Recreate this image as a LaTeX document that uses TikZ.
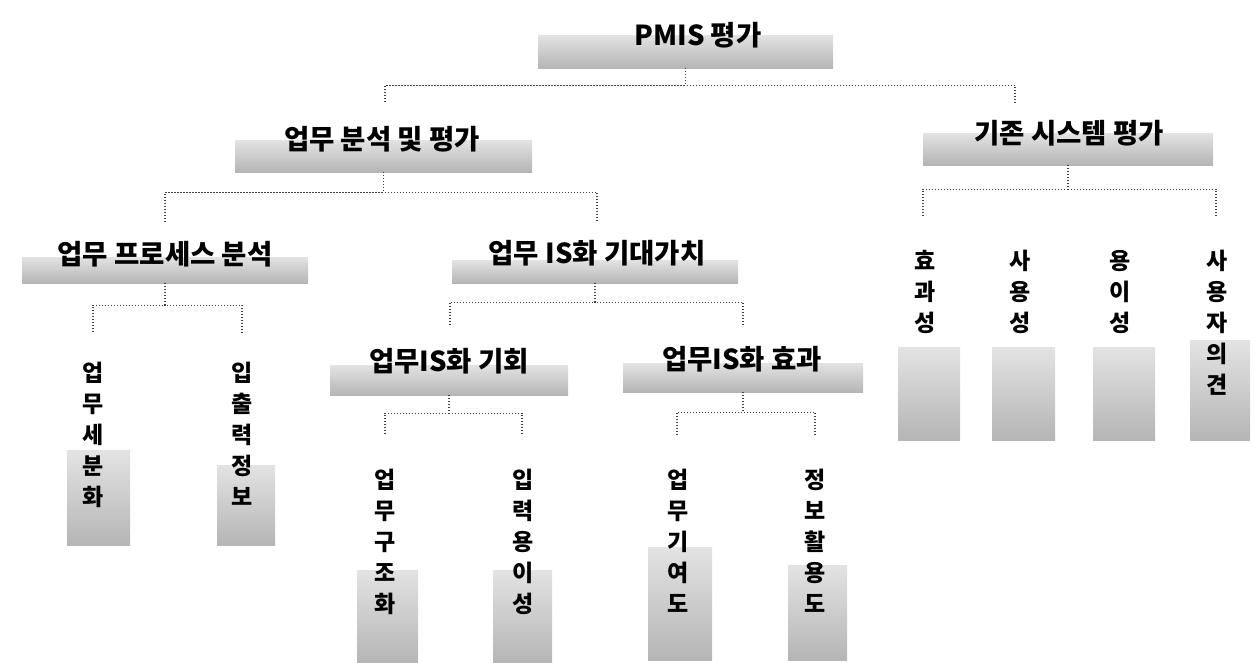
\documentclass[tikz,border=0pt]{standalone}
\usepackage{fontspec}
\newfontfamily\kr{Noto Sans CJK KR}
\usetikzlibrary{fit}
\begin{document}
\begin{tikzpicture}[x=1pt,y=-1pt,
  band/.style={rectangle, inner sep=0pt, draw=none, top color=gray!22, bottom color=gray!58},
  head/.style={font=\kr\bfseries\fontsize{27.5}{27.5}\selectfont, inner sep=0pt},
  leaf/.style={font=\kr\bfseries\fontsize{23}{31}\selectfont, inner sep=0pt, align=center, anchor=north},
  conn/.style={black!75, line width=1.3pt, dash pattern=on 1.2pt off 1.8pt}]
\useasboundingbox (0,0) rectangle (1257,662);
% bands
\node[band, fit={(538,35)(833,68)}] (pmisB) {};
\node[band, fit={(235,140)(532,172)}] (anaB) {};
\node[band, fit={(923,133)(1213,165)}] (sysB) {};
\node[band, fit={(22,257)(308,283)}] (procB) {};
\node[band, fit={(452,260)(738,283)}] (valB) {};
\node[band, fit={(330,365)(568,395)}] (oppB) {};
\node[band, fit={(623,363)(863,392)}] (effB) {};
\node[band, fit={(67,450)(130,545)}] (l1B) {};
\node[band, fit={(217,465)(275,545)}] (l2B) {};
\node[band, fit={(357,570)(418,662)}] (l3B) {};
\node[band, fit={(493,570)(552,662)}] (l4B) {};
\node[band, fit={(648,547)(712,660)}] (l5B) {};
\node[band, fit={(788,565)(847,660)}] (l6B) {};
\node[band, fit={(898,347)(960,440)}] (r1B) {};
\node[band, fit={(992,347)(1055,440)}] (r2B) {};
\node[band, fit={(1093,347)(1155,440)}] (r3B) {};
\node[band, fit={(1190,340)(1250,440)}] (r4B) {};
% heading texts
\node[head] (pmis) at (698,35) {PMIS 평가};
\node[head] (ana) at (382,139) {업무 분석 및 평가};
\node[head] (sys) at (1069,133) {기존 시스템 평가};
\node[head] (proc) at (165,254) {업무 프로세스 분석};
\node[head] (val) at (597,253) {업무 IS화 기대가치};
\node[head] (opp) at (449,361) {업무IS화 기회};
\node[head] (eff) at (742,359) {업무IS화 효과};
% leaf texts
\node[leaf] (l1) at (93,362) {업\\무\\세\\분\\화};
\node[leaf] (l2) at (242,362) {입\\출\\력\\정\\보};
\node[leaf] (l3) at (385,469) {업\\무\\구\\조\\화};
\node[leaf] (l4) at (523,469) {입\\력\\용\\이\\성};
\node[leaf] (l5) at (678,469) {업\\무\\기\\여\\도};
\node[leaf] (l6) at (815,469) {정\\보\\활\\용\\도};
\node[leaf] (r1) at (925,250) {효\\과\\성};
\node[leaf] (r2) at (1020,250) {사\\용\\성};
\node[leaf] (r3) at (1120,250) {용\\이\\성};
\node[leaf] (r4) at (1217,250) {사\\용\\자\\의\\견};
% connector ends
\coordinate (eAna) at (385,102);
\coordinate (eSys) at (1015,104);
\coordinate (eProc) at (165,222);
\coordinate (eVal) at (597,220);
\coordinate (eR1) at (923,218);
\coordinate (eR4) at (1216,218);
\coordinate (eL1) at (93,333);
\coordinate (eL2) at (242,333);
\coordinate (eOpp) at (450,325);
\coordinate (eEff) at (743,325);
\coordinate (eL3) at (385,435);
\coordinate (eL4) at (522,435);
\coordinate (eL5) at (677,435);
\coordinate (eL6) at (815,435);
% connectors
\draw[conn] (pmisB.south) -- ++(0,17) -| (eAna);
\draw[conn] (pmisB.south) -- ++(0,17) -| (eSys);
\draw[conn] (anaB.south) -- ++(0,20) -| (eProc);
\draw[conn] (anaB.south) -- ++(0,20) -| (eVal);
\draw[conn] (sysB.south) -- ++(0,24) -| (eR1);
\draw[conn] (sysB.south) -- ++(0,24) -| (eR4);
\draw[conn] (procB.south) -- ++(0,22) -| (eL1);
\draw[conn] (procB.south) -- ++(0,22) -| (eL2);
\draw[conn] (valB.south) -- ++(0,19) -| (eOpp);
\draw[conn] (valB.south) -- ++(0,19) -| (eEff);
\draw[conn] (oppB.south) -- ++(0,18) -| (eL3);
\draw[conn] (oppB.south) -- ++(0,18) -| (eL4);
\draw[conn] (effB.south) -- ++(0,20) -| (eL5);
\draw[conn] (effB.south) -- ++(0,20) -| (eL6);
\end{tikzpicture}
\end{document}
